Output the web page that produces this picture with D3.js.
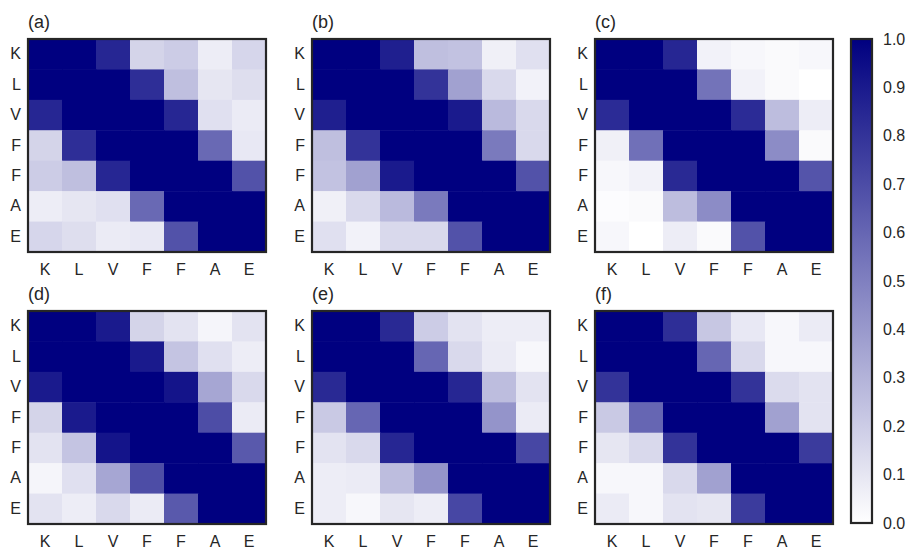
<!DOCTYPE html>
<html>
<head>
<meta charset="utf-8">
<script src="https://cdn.jsdelivr.net/npm/d3@7"></script>
<style>
  html, body { margin: 0; padding: 0; background: #fff; }
  svg text { font-family: "Liberation Sans", Arial, sans-serif; fill: #262626; }
</style>
</head>
<body>
<svg id="chart" width="909" height="551"></svg>
<script>
// Residue labels shared by both axes
const residues = ["K", "L", "V", "F", "F", "A", "E"];
const panelTitles = ["(a)", "(b)", "(c)", "(d)", "(e)", "(f)"];
const colorTicks = [0.0, 0.1, 0.2, 0.3, 0.4, 0.5, 0.6, 0.7, 0.8, 0.9, 1.0];

// Contact matrices (rows top to bottom, columns left to right)
const matrixA = [
  [1.00, 1.00, 0.85, 0.17, 0.20, 0.07, 0.16],
  [1.00, 1.00, 1.00, 0.82, 0.25, 0.10, 0.13],
  [0.85, 1.00, 1.00, 1.00, 0.85, 0.12, 0.08],
  [0.17, 0.82, 1.00, 1.00, 1.00, 0.59, 0.09],
  [0.20, 0.25, 0.85, 1.00, 1.00, 1.00, 0.68],
  [0.07, 0.10, 0.12, 0.59, 1.00, 1.00, 1.00],
  [0.16, 0.13, 0.08, 0.09, 0.68, 1.00, 1.00]
];
const matrixB = [
  [1.00, 1.00, 0.88, 0.25, 0.24, 0.06, 0.12],
  [1.00, 1.00, 1.00, 0.80, 0.37, 0.15, 0.05],
  [0.88, 1.00, 1.00, 1.00, 0.90, 0.27, 0.15],
  [0.25, 0.80, 1.00, 1.00, 1.00, 0.52, 0.15],
  [0.24, 0.37, 0.90, 1.00, 1.00, 1.00, 0.68],
  [0.06, 0.15, 0.27, 0.52, 1.00, 1.00, 1.00],
  [0.12, 0.05, 0.15, 0.15, 0.68, 1.00, 1.00]
];
const matrixC = [
  [1.00, 1.00, 0.85, 0.05, 0.03, 0.02, 0.03],
  [1.00, 1.00, 1.00, 0.55, 0.05, 0.02, 0.00],
  [0.83, 1.00, 1.00, 1.00, 0.83, 0.26, 0.07],
  [0.06, 0.56, 1.00, 1.00, 1.00, 0.45, 0.02],
  [0.03, 0.05, 0.84, 1.00, 1.00, 1.00, 0.67],
  [0.01, 0.02, 0.26, 0.45, 1.00, 1.00, 1.00],
  [0.03, 0.00, 0.07, 0.02, 0.68, 1.00, 1.00]
];
const matrixD = [
  [1.00, 1.00, 0.90, 0.17, 0.11, 0.04, 0.11],
  [1.00, 1.00, 1.00, 0.90, 0.23, 0.12, 0.07],
  [0.90, 1.00, 1.00, 1.00, 0.92, 0.35, 0.15],
  [0.17, 0.90, 1.00, 1.00, 1.00, 0.70, 0.08],
  [0.11, 0.23, 0.92, 1.00, 1.00, 1.00, 0.65],
  [0.04, 0.12, 0.35, 0.70, 1.00, 1.00, 1.00],
  [0.11, 0.07, 0.15, 0.08, 0.65, 1.00, 1.00]
];
const matrixE = [
  [1.00, 1.00, 0.84, 0.20, 0.11, 0.07, 0.07],
  [1.00, 1.00, 1.00, 0.60, 0.15, 0.08, 0.03],
  [0.84, 1.00, 1.00, 1.00, 0.85, 0.26, 0.11],
  [0.21, 0.60, 1.00, 1.00, 1.00, 0.42, 0.08],
  [0.11, 0.15, 0.85, 1.00, 1.00, 1.00, 0.72],
  [0.07, 0.08, 0.26, 0.42, 1.00, 1.00, 1.00],
  [0.07, 0.03, 0.10, 0.07, 0.72, 1.00, 1.00]
];
const matrixF = [
  [1.00, 1.00, 0.82, 0.22, 0.09, 0.03, 0.08],
  [1.00, 1.00, 1.00, 0.60, 0.15, 0.03, 0.03],
  [0.80, 1.00, 1.00, 1.00, 0.80, 0.14, 0.11],
  [0.21, 0.60, 1.00, 1.00, 1.00, 0.37, 0.11],
  [0.10, 0.15, 0.80, 1.00, 1.00, 1.00, 0.77],
  [0.03, 0.03, 0.15, 0.37, 1.00, 1.00, 1.00],
  [0.08, 0.03, 0.11, 0.10, 0.77, 1.00, 1.00]
];
const matrices = [matrixA, matrixB, matrixC, matrixD, matrixE, matrixF];

const svg = d3.select("#chart");
const color = d3.scaleLinear().domain([0, 1]).range(["#ffffff", "#000080"]).clamp(true);

const panelW = 238, panelH = 213;
const colX = [28, 312, 595];
const rowY = [39, 311];
const idx = d3.range(residues.length);
const frameColor = "#262626";

matrices.forEach((m, p) => {
  const px = colX[p % 3], py = rowY[Math.floor(p / 3)];
  const g = svg.append("g").attr("transform", `translate(${px},${py})`);
  const x = d3.scaleBand().domain(idx).range([0, panelW]);
  const y = d3.scaleBand().domain(idx).range([0, panelH]);

  const cells = [];
  m.forEach((row, i) => row.forEach((v, j) => cells.push({ i, j, v })));
  g.selectAll("rect.cell").data(cells).join("rect")
    .attr("class", "cell")
    .attr("x", d => x(d.j))
    .attr("y", d => y(d.i))
    .attr("width", x.bandwidth() + 0.5)
    .attr("height", y.bandwidth() + 0.5)
    .attr("fill", d => color(d.v));

  const xAxis = d3.axisBottom(x).tickSize(0).tickPadding(12).tickFormat(i => residues[i]);
  const yAxis = d3.axisLeft(y).tickSize(0).tickPadding(7).tickFormat(i => residues[i]);
  g.append("g").attr("transform", `translate(0,${panelH})`).call(xAxis)
    .call(a => a.select(".domain").remove())
    .selectAll("text").style("font-size", "16px").attr("fill", frameColor);
  g.append("g").call(yAxis)
    .call(a => a.select(".domain").remove())
    .selectAll("text").style("font-size", "16px").attr("fill", frameColor);

  g.append("rect")
    .attr("width", panelW).attr("height", panelH)
    .attr("fill", "none").attr("stroke", frameColor).attr("stroke-width", 2.2);

  g.append("text").attr("x", 0).attr("y", -11)
    .style("font-size", "18px").text(panelTitles[p]);
});

// Colour bar
const cbX = 851, cbW = 21, cbTop = 39, cbBottom = 523;
const cbScale = d3.scaleLinear().domain([0, 1]).range([cbBottom, cbTop]);
const defs = svg.append("defs");
const grad = defs.append("linearGradient").attr("id", "cbGrad")
  .attr("x1", 0).attr("y1", 1).attr("x2", 0).attr("y2", 0);
grad.selectAll("stop").data(d3.range(0, 1.0001, 0.1)).join("stop")
  .attr("offset", d => d).attr("stop-color", d => color(d));
svg.append("rect")
  .attr("x", cbX).attr("y", cbTop).attr("width", cbW).attr("height", cbBottom - cbTop)
  .attr("fill", "url(#cbGrad)").attr("stroke", frameColor).attr("stroke-width", 2.2);
svg.append("g").attr("transform", `translate(${cbX + cbW},0)`)
  .call(d3.axisRight(cbScale).tickValues(colorTicks).tickSize(0).tickPadding(11).tickFormat(d3.format(".1f")))
  .call(a => a.select(".domain").remove())
  .selectAll("text").style("font-size", "16px").attr("fill", frameColor);
</script>
</body>
</html>
